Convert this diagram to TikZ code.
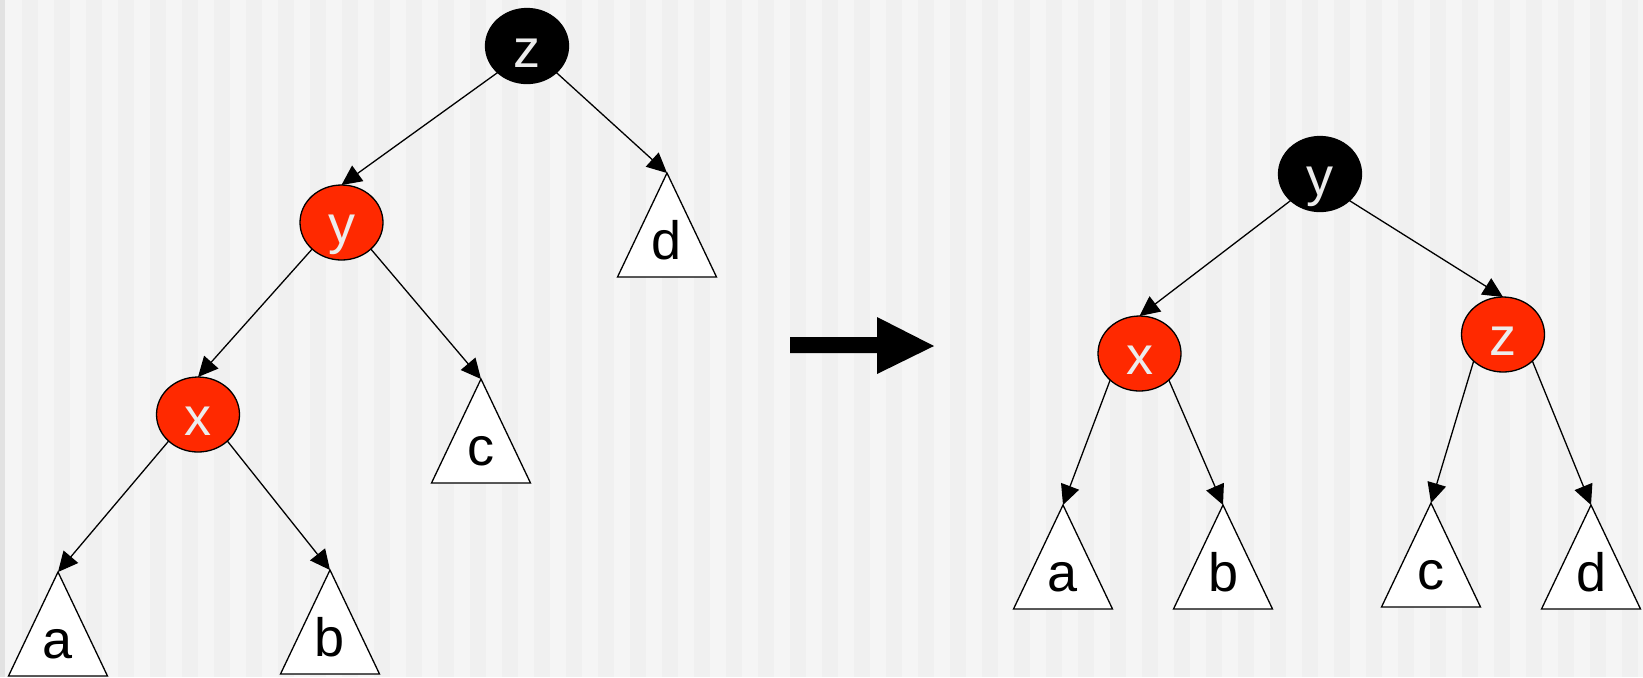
\documentclass[tikz,border=0pt]{standalone}
\usepackage{fontspec}
\setmainfont{Liberation Sans}
\usetikzlibrary{arrows.meta,shapes.geometric,calc}

\definecolor{rbred}{RGB}{255,41,0}
\definecolor{stripeA}{RGB}{245,245,245}
\definecolor{stripeB}{RGB}{240,240,240}
\definecolor{edgegray}{RGB}{226,226,226}
\definecolor{keytext}{RGB}{236,236,236}

% key node: ellipse plus its letter set on a common baseline
\newcommand\keynode[4]{%
  \node[#1] (#2) at (#3) {};
  \node[keylabel] (#2-lbl) at ($(#2)+(0,21)$) {#4};}
% subtree: triangle hanging from its apex coordinate
\newcommand\subtree[3]{%
  \coordinate (#1) at (#3);
  \draw[subtreebox] (#1) -- ++(-49.5,104) -- ++(99,0) -- cycle;
  \node[treelabel] (#1-lbl) at ($(#1)+(0,86)$) {#2};}

\begin{document}
\begin{tikzpicture}[x=0.5pt,y=-0.5pt,
  link/.style={line width=0.65pt,-{Triangle[length=10pt,width=9.5pt]}},
  rbnode/.style={ellipse,draw=black,line width=0.65pt,minimum width=41.5pt,
    minimum height=37.5pt,inner sep=0pt,outer sep=0pt},
  rednode/.style={rbnode,fill=rbred},
  blacknode/.style={rbnode,fill=black},
  keylabel/.style={anchor=base,text=keytext,inner sep=0pt,
    font=\fontsize{27}{30}\selectfont},
  treelabel/.style={anchor=base,text=black,inner sep=0pt,
    font=\fontsize{27}{30}\selectfont},
  subtreebox/.style={draw=black,fill=white,line width=0.65pt},
]
% striped background
\useasboundingbox (0,0) rectangle (1643,677);
\fill[stripeA] (0,0) rectangle (1643,677);
\foreach \i in {0,...,50} \fill[stripeB] ({22+32*\i},0) rectangle ++(16,677);
\fill[edgegray] (0,0) rectangle (5,677);

% ---- before rotation ----
\keynode{blacknode}{Lz}{527,46}{z}
\keynode{rednode}{Ly}{341.5,222.5}{y}
\keynode{rednode}{Lx}{198,414.5}{x}
\subtree{La}{a}{58,572}
\subtree{Lb}{b}{330,570}
\subtree{Lc}{c}{481,379}
\subtree{Ld}{d}{667,173}

\draw[link] (Lz.south west) -- (Ly.north);
\draw[link] (Lz.south east) -- (Ld);
\draw[link] (Ly.south west) -- (Lx.north);
\draw[link] (Ly.south east) -- (Lc);
\draw[link] (Lx.south west) -- (La);
\draw[link] (Lx.south east) -- (Lb);

% ---- transformation arrow ----
\fill[black] (790,337) -- (877,337) -- (877,317) -- (934,346)
  -- (877,374) -- (877,353) -- (790,353) -- cycle;

% ---- after rotation ----
\keynode{blacknode}{Ry}{1320,174}{y}
\keynode{rednode}{Rx}{1139.5,353.5}{x}
\keynode{rednode}{Rz}{1503,334.5}{z}
\subtree{Ra}{a}{1063,505}
\subtree{Rb}{b}{1223,505}
\subtree{Rc}{c}{1431,503}
\subtree{Rd}{d}{1591,505}

\draw[link] (Ry.south west) -- (Rx.north);
\draw[link] (Ry.south east) -- (Rz.north);
\draw[link] (Rx.south west) -- (Ra);
\draw[link] (Rx.south east) -- (Rb);
\draw[link] (Rz.south west) -- (Rc);
\draw[link] (Rz.south east) -- (Rd);
\end{tikzpicture}
\end{document}
